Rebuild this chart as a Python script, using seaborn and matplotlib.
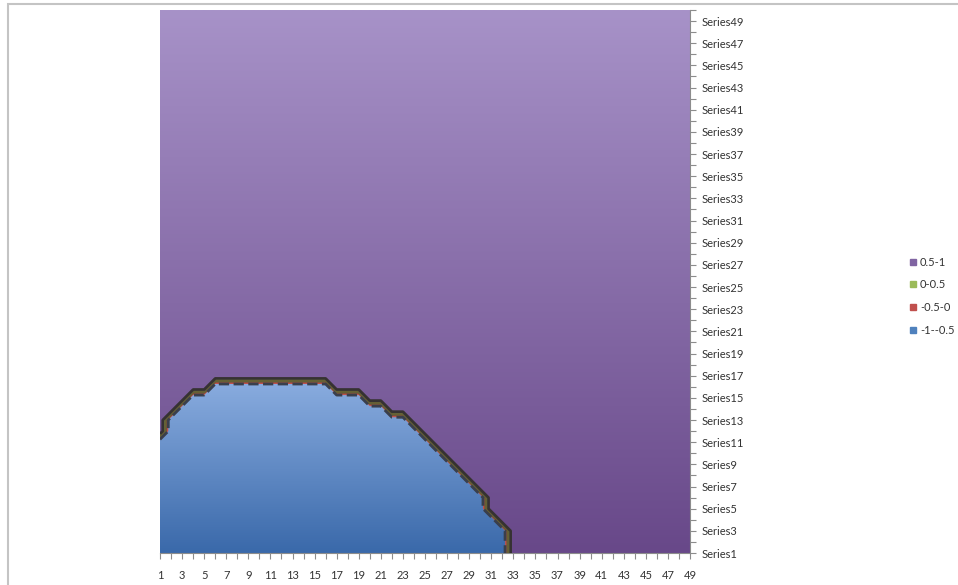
import numpy as np
import matplotlib
matplotlib.use("Agg")
import matplotlib.pyplot as plt
import seaborn as sns
from matplotlib.lines import Line2D
from matplotlib.patches import Rectangle
from matplotlib.colors import to_rgb

# ---- data -------------------------------------------------------------
columns = list(range(1, 50))                              # category axis 1..49
series_names = [f"Series{i}" for i in range(1, 50)]      # series axis
band_levels = [-1.0, -0.5, 0.0, 0.5, 1.0]
band_labels = ["-1--0.5", "-0.5-0", "0-0.5", "0.5-1"]
band_colors = ["#4F81BD", "#C0504D", "#9BBB59", "#8064A2"]
low_value = -1.0
high_value = 1.0
# highest series, per column, that holds the low value (0 = none)
low_top = [11, 13, 14, 15, 15, 16, 16, 16, 16, 16, 16, 16, 16, 16, 16, 16,
           15, 15, 15, 14, 14, 13, 13, 12, 11, 10, 9, 8, 7, 6, 4, 3,
           0, 0, 0, 0, 0, 0, 0, 0, 0, 0, 0, 0, 0, 0, 0, 0, 0]

# lighting shades (top colour, bottom colour) for the two large bands
band_shades = {0: ("#88ABDE", "#3A69AA"), 3: ("#A792C8", "#684889")}

# ---- style ------------------------------------------------------------
sns.set_theme(style="white")
plt.rcParams["font.family"] = ["Lato", "DejaVu Sans"]

# ---- surface grid -----------------------------------------------------
rows = np.arange(1, len(series_names) + 1)
z = np.where(rows[:, None] <= np.array(low_top)[None, :], low_value, high_value)
# the series axis runs one interval past the last series; repeat the top row there
y = np.append(rows, rows[-1] + 1)
z = np.vstack([z, z[-1]])
X, Y = np.meshgrid(columns, y)

W, H = 958, 585
fig = plt.figure(figsize=(W / 100, H / 100), dpi=100)
ax = fig.add_axes([160 / W, 32 / H, 530 / W, 543 / H])

cs = ax.contourf(X, Y, z, levels=band_levels, colors=band_colors, zorder=1)

# vertical lighting gradient inside the large bands
for idx, (top_c, bot_c) in band_shades.items():
    path = cs.get_paths()[idx]
    if len(path.vertices) == 0:
        continue
    y0, y1 = path.vertices[:, 1].min(), path.vertices[:, 1].max()
    t = np.linspace(0, 1, 256)[:, None, None]
    img = np.array(to_rgb(bot_c))[None, None, :] * (1 - t) + np.array(to_rgb(top_c))[None, None, :] * t
    im = ax.imshow(img, extent=[columns[0], columns[-1], y0, y1], origin="lower",
                   aspect="auto", interpolation="bilinear", zorder=1.5)
    im.set_clip_path(path, ax.transData)

# band border lines
ax.contour(X, Y, z, levels=[0.0], colors="#5f5631", linewidths=2.0, alpha=0.9, zorder=3)
ax.contour(X, Y, z, levels=[0.5], colors="#363232", linewidths=2.0, zorder=3.1)
ax.contour(X, Y, z, levels=[-0.5], colors="#3a3f4c", linewidths=2.0, zorder=3.1)

ax.set_xlim(columns[0], columns[-1])
ax.set_ylim(rows[0], rows[-1] + 1)

# ---- axes -------------------------------------------------------------
ax.set_xticks(columns[::2])
ax.set_xticklabels([str(c) for c in columns[::2]])
ax.set_xticks(columns[1::2], minor=True)
ax.yaxis.tick_right()
ax.set_yticks(rows[::2])
ax.set_yticklabels(series_names[::2])
ax.set_yticks(list(rows[1::2]) + [rows[-1] + 1], minor=True)
ax.tick_params(which="both", direction="out", length=4, width=0.8, color="#8c8c8c",
               labelsize=8, labelcolor="#333333")
ax.tick_params(axis="x", which="both", bottom=True, top=False, pad=8)
ax.tick_params(axis="y", which="both", right=True, left=False, pad=4)
for side in ("left", "top"):
    ax.spines[side].set_visible(False)
for side in ("bottom", "right"):
    ax.spines[side].set_color("#8c8c8c")
    ax.spines[side].set_linewidth(0.8)
ax.set_xlabel("")
ax.set_ylabel("")

# ---- legend -----------------------------------------------------------
order = [3, 2, 1, 0]
handles = [Line2D([], [], ls="", marker="s", markersize=4.5, color=band_colors[i]) for i in order]
fig.legend(handles, [band_labels[i] for i in order], loc="center left",
           bbox_to_anchor=(909 / W, 1 - 296 / H), frameon=False, fontsize=8,
           handlelength=0.7, handletextpad=0.3, labelspacing=1.05,
           borderpad=0, borderaxespad=0, labelcolor="#333333")

# chart frame
fig.patches.append(Rectangle((8 / W, -0.1), 1.2, 1.1 - 4 / H, transform=fig.transFigure,
                             fill=False, edgecolor="#c4c4c4", linewidth=1.5))

fig.savefig("out.png", dpi=100, facecolor="white")
